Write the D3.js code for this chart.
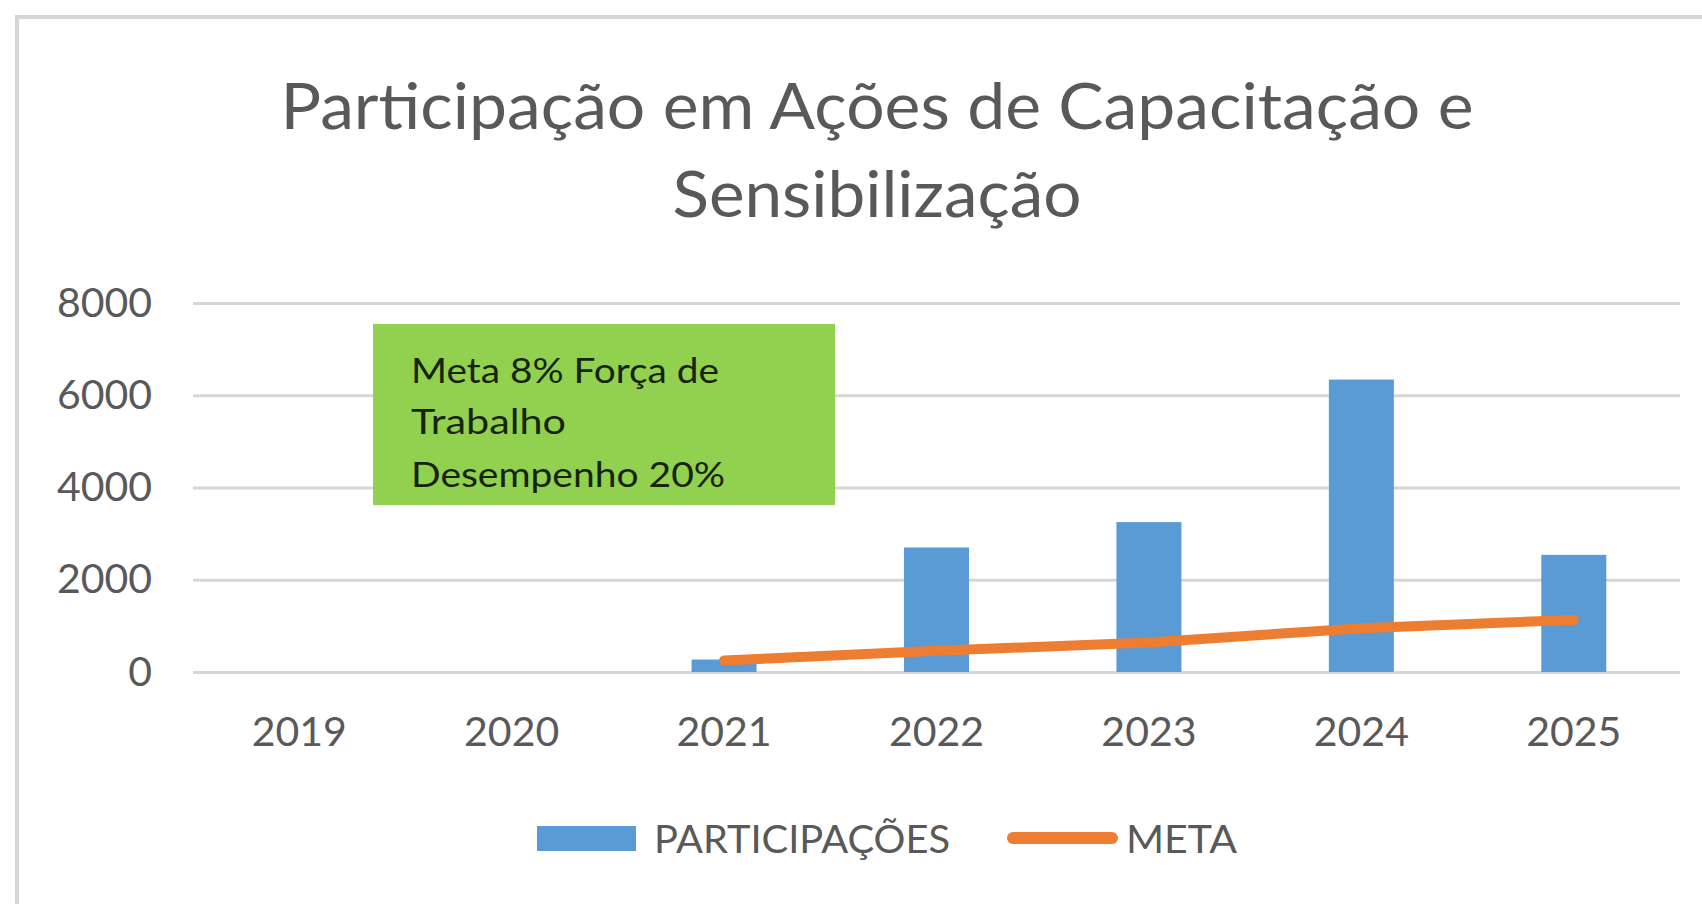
<!DOCTYPE html>
<html lang="pt">
<head>
    <meta charset="UTF-8">
    <style>
        body { margin: 0; background: #fff; }
        svg { display: block; font-family: Lato, "Open Sans", sans-serif; }
        .grid line { stroke: #d6d6d6; stroke-width: 3px; }
        .grid text, .xaxis text { fill: #595959; font-size: 41px; font-family: Lato, sans-serif; }
    </style>
    <title>Participação em Ações de Capacitação e Sensibilização</title>
</head>
<body>
<script src="https://d3js.org/d3.v7.min.js"></script>
<script>
    // data
    var years = ['2019', '2020', '2021', '2022', '2023', '2024', '2025'];
    var participacoes = [null, null, 270, 2700, 3250, 6340, 2540];
    var metaYears = ['2021', '2022', '2023', '2024', '2025'];
    var meta = [250, 460, 640, 950, 1130];
    var yTicks = [0, 2000, 4000, 6000, 8000];
    var titleLines = ['Participação em Ações de Capacitação e', 'Sensibilização'];
    var noteLines = ['Meta 8% Força de', 'Trabalho', 'Desempenho 20%'];

    var width = 1702, height = 904;
    var blue = '#5b9bd5', orange = '#ed7d31';

    var svg = d3.select('body').append('svg')
        .attr('width', width)
        .attr('height', height);

    // chart frame
    svg.append('rect')
        .attr('x', 17).attr('y', 17)
        .attr('width', width).attr('height', height)
        .attr('fill', '#fff')
        .attr('stroke', '#d6d6d6')
        .attr('stroke-width', 4);

    // squeeze text to the width it has in the picture (Calibri is narrow)
    function fit(sel, w) {
        var len = sel.node().getComputedTextLength();
        if (Math.abs(len - w) > 2) {
            sel.attr('textLength', w).attr('lengthAdjust', 'spacingAndGlyphs');
        }
        return sel;
    }

    // title
    var titleW = [1193, 409], titleY = [129, 217];
    titleLines.forEach(function (t, i) {
        var el = svg.append('text')
            .attr('x', 877).attr('y', titleY[i])
            .attr('text-anchor', 'middle')
            .attr('fill', '#595959')
            .style('font-size', '64px')
            .text(t);
        fit(el, titleW[i]);
    });

    var x = d3.scaleBand().domain(years).range([193, 1680]).padding(0);
    var y = d3.scaleLinear().domain([0, 8000]).range([672, 303]);

    // gridlines + y labels
    var grid = svg.append('g').attr('class', 'grid')
        .attr('transform', 'translate(193,0)')
        .call(d3.axisLeft(y)
            .tickValues(yTicks)
            .tickSize(-(1680 - 193))
            .tickPadding(41)
            .tickFormat(d3.format('d')));
    grid.select('.domain').remove();

    // x labels
    var xa = svg.append('g').attr('class', 'xaxis')
        .attr('transform', 'translate(0,672)')
        .call(d3.axisBottom(x).tickSize(0).tickPadding(45));
    xa.select('.domain').remove();

    // bars
    var barW = x.bandwidth() * 0.306;
    svg.append('g')
        .selectAll('rect')
        .data(years.map(function (d, i) { return {year: d, v: participacoes[i]}; })
            .filter(function (d) { return d.v != null; }))
        .enter()
        .append('rect')
        .attr('x', function (d) { return x(d.year) + x.bandwidth() / 2 - barW / 2; })
        .attr('y', function (d) { return y(d.v); })
        .attr('width', barW)
        .attr('height', function (d) { return y(0) - y(d.v); })
        .attr('fill', blue);

    // meta line
    var line = d3.line()
        .x(function (d, i) { return x(metaYears[i]) + x.bandwidth() / 2; })
        .y(function (d) { return y(d); });
    svg.append('path')
        .datum(meta)
        .attr('d', line)
        .attr('fill', 'none')
        .attr('stroke', orange)
        .attr('stroke-width', 10)
        .attr('stroke-linecap', 'round')
        .attr('stroke-linejoin', 'round');

    // green note box
    svg.append('rect')
        .attr('x', 373).attr('y', 324)
        .attr('width', 462).attr('height', 181)
        .attr('fill', '#92d050');
    var noteW = [308, 155, 314], noteY = [383, 434, 487];
    noteLines.forEach(function (t, i) {
        var el = svg.append('text')
            .attr('x', 411).attr('y', noteY[i])
            .attr('fill', '#17240c')
            .style('font-size', '35px')
            .text(t);
        fit(el, noteW[i]);
    });

    // legend
    var legend = svg.append('g');
    legend.append('rect')
        .attr('x', 537).attr('y', 826)
        .attr('width', 99).attr('height', 25)
        .attr('fill', blue);
    fit(legend.append('text')
        .attr('x', 654).attr('y', 853)
        .attr('fill', '#595959')
        .style('font-size', '39px')
        .text('PARTICIPAÇÕES'), 296);
    legend.append('line')
        .attr('x1', 1013).attr('x2', 1112)
        .attr('y1', 838).attr('y2', 838)
        .attr('stroke', orange)
        .attr('stroke-width', 12)
        .attr('stroke-linecap', 'round');
    fit(legend.append('text')
        .attr('x', 1126).attr('y', 853)
        .attr('fill', '#595959')
        .style('font-size', '39px')
        .text('META'), 111);
</script>
</body>
</html>
